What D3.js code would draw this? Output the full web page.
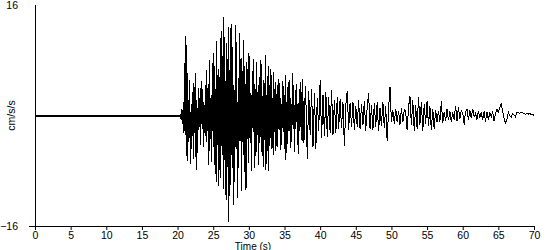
<!DOCTYPE html>
<html><head><meta charset="utf-8">
<script src="https://cdn.jsdelivr.net/npm/d3@7"></script>
<style>
html,body{margin:0;padding:0;background:#fff;}
svg{display:block;font-family:"Liberation Sans",Arial,sans-serif;}
</style></head>
<body>
<svg id="chart" width="550" height="250"></svg>
<script>
// ---- data ----
const xTicks = [0,5,10,15,20,25,30,35,40,45,50,55,60,65,70];
const yTickLabels = [16,-16];
const xLabel = "Time (s)";
const yLabel = "cm/s/s";
// quiet part before the arrival
const quietTimes = [0, 20.4];
const quietValues = [0, 0];
// strong motion, sampled every 0.1 s from 20.4 s
const strongStart = 20.4, strongStep = 0.1;
const strongValues = [
 0.2,-0.6,0.9,-1.2,2.0,-2.6,
 4.5,11.5,-5.8,10.2,-6.6,2.2,-3.8,5.1,-7.0,1.6,
 -4.9,3.4,-6.3,4.7,-2.5,6.1,-7.9,2.2,-5.5,4.0,
 -2.1,2.6,-4.2,5.0,-1.3,3.8,-4.6,1.9,-2.5,4.4,
 -3.8,6.6,-2.2,4.5,-7.1,8.0,-3.4,2.9,-6.8,7.6,
 -4.5,9.0,-7.2,3.8,-9.6,10.8,-4.2,6.8,-10.2,5.6,
 -9.0,12.3,-4.4,8.6,-10.7,14.3,-6.5,5.0,-12.2,10.5,
 -7.4,12.8,-15.4,6.6,-10.1,13.2,-5.7,9.9,-13.0,4.4,
 -9.6,13.1,-4.8,10.6,-12.0,5.4,-7.6,11.9,-3.7,8.3,
 -10.9,6.5,-5.7,11.0,-8.2,4.6,-10.8,7.8,-3.4,9.1,
 -6.9,8.6,-4.0,3.3,-8.1,6.5,-2.4,8.2,-7.6,3.9,
 -5.9,7.7,-2.8,4.4,-7.2,5.6,-3.1,8.0,-5.3,2.8,
 -7.4,5.2,-3.6,8.8,-7.9,3.0,-5.1,7.1,-8.0,4.4,
 -3.3,6.7,-4.8,2.5,-5.7,6.3,-2.4,4.9,-5.2,3.1,
 -4.6,5.3,-1.9,4.7,-5.0,2.6,-4.3,5.0,-2.4,4.2,
 -4.9,5.8,-6.5,1.9,-4.1,4.8,-2.2,5.2,-4.7,2.5,
 -3.8,6.1,-1.9,4.4,-5.3,3.7,-2.0,4.6,-4.2,1.8,
 -5.6,3.9,-1.7,4.9,-3.6,5.3,-4.0,2.1,-3.5,4.2
];
// coda, sampled every 0.2 s from 38.0 s
const codaStart = 38.0, codaStep = 0.2;
const codaValues = [
 2.4,-6.3,3.5,-2.8,3.9,-4.5,3.2,-4.8,2.6,-2.2,
 5.1,-3.3,3.0,-2.9,3.4,-3.1,2.7,-2.5,3.7,-2.8,
 2.2,-2.6,2.7,-2.0,2.4,-1.8,1.9,-4.4,1.5,3.6,
 -2.1,1.8,-1.6,2.0,-2.1,1.4,-1.7,2.2,-2.0,1.6,
 -1.4,2.1,-2.2,1.2,3.2,-1.9,1.5,-2.1,1.8,-1.6,
 1.9,-2.3,1.1,-1.5,2.0,-1.8,1.3,-3.7,0.9,4.1,
 -1.0,0.8,-1.2,1.0,-0.9,0.7,-1.3,1.1,-1.0,0.9,
 0.6,-2.1,1.2,2.8,-1.4,2.2,-2.2,1.5,-1.9,2.7,
 -1.3,2.0,-2.3,1.6,-1.2,2.1,-1.5,1.3,-2.1,1.0,
 -2.0,0.8,-1.0,0.7,-0.9,2.1,-1.1,0.5,-0.8,0.9,
 -0.7,0.6,-0.9,0.5,-0.6,1.4,-0.8,1.2,-0.5,0.7,
 0.4,-1.3,0.6,0.9,-0.7,0.8,-0.4,1.0,-0.2,0.3,
 -0.6,0.7,-0.3,0.5,-0.7,0.6,-0.9,0.5,-0.6,0.4,
 -0.2,0.6,-0.8,0.3,0.9,0.5,1.1,1.7,0.6,-0.4,
 -1.1,-0.6,0.5,0.0,-0.3,0.3,0.1,-0.2,0.4,0.4,
 0.3,0.5,0.4,0.3,0.2,0.3,0.2,0.3,0.1,0.2,0.0
];

// ---- build records ----
const records = [];
quietTimes.forEach((t,i)=>records.push({t, v: quietValues[i]}));
strongValues.forEach((v,i)=>records.push({t: strongStart + i*strongStep, v}));
codaValues.forEach((v,i)=>records.push({t: codaStart + i*codaStep, v}));

// ---- drawing ----
const svg = d3.select("#chart");
const x = d3.scaleLinear().domain([0,70]).range([35,534]);
const y = d3.scaleLinear().domain([-16,16]).range([226,5]);
const line = d3.line().x(d=>x(d.t)).y(d=>y(d.v));

// quiet line (thicker, as in reference)
svg.append("path")
  .datum(records.slice(0,2))
  .attr("fill","none").attr("stroke","#000").attr("stroke-width",2)
  .attr("shape-rendering","crispEdges")
  .attr("d", line);

// waveform
svg.append("path")
  .datum(records.slice(1))
  .attr("fill","none").attr("stroke","#000").attr("stroke-width",1)
  .attr("shape-rendering","crispEdges")
  .attr("d", line);

const fontFam = "Liberation Sans, Arial, sans-serif";
// x axis
const xAxis = svg.append("g").attr("transform",`translate(0,${y(-16)})`)
  .call(d3.axisBottom(x).tickValues(xTicks).tickSize(4).tickSizeOuter(0).tickPadding(1.5));
xAxis.select(".domain").remove();
xAxis.selectAll("text").attr("font-size",10.5).attr("font-family",fontFam).attr("fill","#000");
xAxis.selectAll("line").attr("stroke","#000");
svg.append("line").attr("x1",29).attr("x2",x(70)+0.5)
  .attr("y1",y(-16)+0.5).attr("y2",y(-16)+0.5).attr("stroke","#000");

// y axis
svg.append("line").attr("x1",x(0)+0.5).attr("x2",x(0)+0.5)
  .attr("y1",y(16)).attr("y2",y(-16)+1).attr("stroke","#000");
const yAxis = svg.append("g").attr("transform",`translate(18,0)`)
  .call(d3.axisLeft(y).tickValues(yTickLabels).tickSize(0).tickPadding(0));
yAxis.select(".domain").remove();
yAxis.selectAll("text").attr("font-size",10.5).attr("font-family",fontFam).attr("fill","#000");

// axis titles
svg.append("text").attr("x",253).attr("y",249.5).attr("text-anchor","middle")
  .attr("font-size",10).attr("font-family",fontFam).attr("fill","#000").text(xLabel);
svg.append("text").attr("transform",`translate(15,${y(0)}) rotate(-90)`)
  .attr("text-anchor","middle").attr("font-size",10.5).attr("font-family",fontFam)
  .attr("fill","#000").text(yLabel);
</script>
</body></html>
